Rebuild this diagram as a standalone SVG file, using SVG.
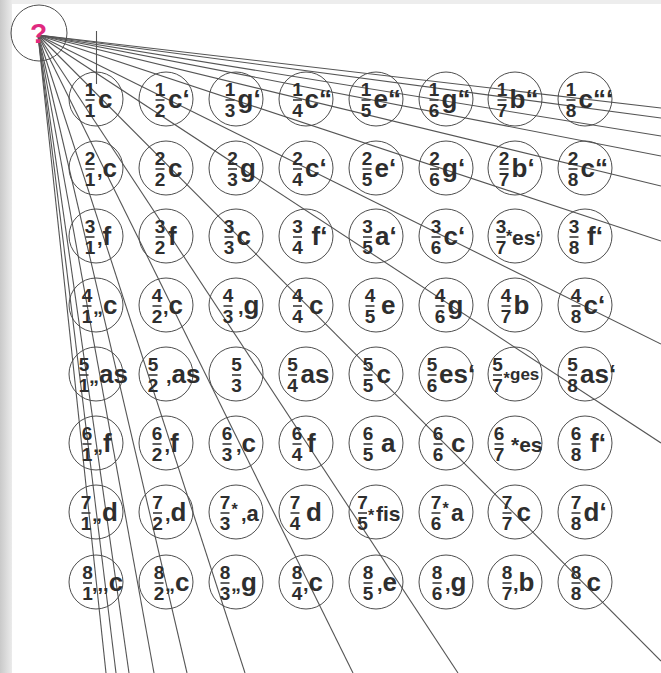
<svg xmlns="http://www.w3.org/2000/svg" width="661" height="673" viewBox="0 0 661 673">
<defs>
<linearGradient id="lg" x1="0" y1="0" x2="1" y2="0"><stop offset="0" stop-color="#c9c9c9"/><stop offset="1" stop-color="#ebebeb"/></linearGradient>
<style>
.nd circle{fill:none;stroke:#4d4d4d;stroke-width:1}
.nd path{stroke:#3a3a3a;stroke-width:1.6;fill:none}
.d{font:bold 19px "Liberation Sans",Arial,sans-serif;text-anchor:middle;fill:#2e2e2e}
.n{font:bold 26px "Liberation Sans",Arial,sans-serif;fill:#2e2e2e}
.m{font-size:20px}
.s{font-size:21px}
.a{font:bold 16px "Liberation Sans",Arial,sans-serif;fill:#2e2e2e}
#conn line{stroke:#555;stroke-width:1.1}
</style>
</defs>
<rect width="661" height="673" fill="#fff"/>
<rect width="12" height="673" fill="url(#lg)"/>
<rect x="12" width="649" height="4" fill="#ededed"/>
<g id="conn">
<line x1="96.5" y1="31" x2="96.5" y2="84"/>
<line x1="38" y1="35" x2="661" y2="108"/>
<line x1="38" y1="35" x2="661" y2="118"/>
<line x1="38" y1="35" x2="661" y2="136"/>
<line x1="38" y1="35" x2="661" y2="156"/>
<line x1="38" y1="35" x2="661" y2="186"/>
<line x1="38" y1="35" x2="661" y2="241"/>
<line x1="38" y1="35" x2="661" y2="344"/>
<line x1="38" y1="35" x2="661" y2="443"/>
<line x1="38" y1="35" x2="661" y2="661"/>
<line x1="38" y1="35" x2="106" y2="673"/>
<line x1="38" y1="35" x2="116" y2="673"/>
<line x1="38" y1="35" x2="129" y2="673"/>
<line x1="38" y1="35" x2="154" y2="673"/>
<line x1="38" y1="35" x2="187" y2="673"/>
<line x1="38" y1="35" x2="245" y2="673"/>
<line x1="38" y1="35" x2="353" y2="673"/>
<line x1="38" y1="35" x2="458" y2="673"/>
</g>
<g id="q" class="nd" transform="translate(39,33)"><circle r="28"/><text x="-0.5" y="9.5" style="font:bold 28px 'Liberation Sans',Arial,sans-serif;fill:#e0297f;text-anchor:middle">?</text></g>

<g id="n11" class="nd" transform="translate(96,99)"><circle r="27"/><text class="d"><tspan x="-6" y="-3">1</tspan><tspan x="-6" y="18">1</tspan></text><path d="M-10.5 1h9"/><text class="n" x="2" y="9">c</text></g>
<g id="n12" class="nd" transform="translate(166,99)"><circle r="27"/><text class="d"><tspan x="-6" y="-3">1</tspan><tspan x="-6" y="18">2</tspan></text><path d="M-10.5 1h9"/><text class="n" x="2" y="9">c‘</text></g>
<g id="n13" class="nd" transform="translate(236,99)"><circle r="27"/><text class="d"><tspan x="-6" y="-3">1</tspan><tspan x="-6" y="18">3</tspan></text><path d="M-10.5 1h9"/><text class="n" x="1.5" y="9">g‘</text></g>
<g id="n14" class="nd" transform="translate(306,99)"><circle r="27"/><text class="d"><tspan x="-8.5" y="-3">1</tspan><tspan x="-8.5" y="18">4</tspan></text><path d="M-13 1h9"/><text class="n" x="-1.5" y="9">c“</text></g>
<g id="n15" class="nd" transform="translate(376,99)"><circle r="27"/><text class="d"><tspan x="-10" y="-3">1</tspan><tspan x="-10" y="18">5</tspan></text><path d="M-14.5 1h9"/><text class="n" x="-2.5" y="9">e“</text></g>
<g id="n16" class="nd" transform="translate(446,99)"><circle r="27"/><text class="d"><tspan x="-12" y="-3">1</tspan><tspan x="-12" y="18">6</tspan></text><path d="M-16.5 1h9"/><text class="n" x="-4.5" y="9">g“</text></g>
<g id="n17" class="nd" transform="translate(515,99)"><circle r="27"/><text class="d"><tspan x="-13" y="-3">1</tspan><tspan x="-13" y="18">7</tspan></text><path d="M-17.5 1h9"/><text class="n" x="-5.5" y="9">b“</text></g>
<g id="n18" class="nd" transform="translate(585,99)"><circle r="27"/><text class="d"><tspan x="-14" y="-3">1</tspan><tspan x="-14" y="18">8</tspan></text><path d="M-18.5 1h9"/><text class="n" x="-6.5" y="9">c“‘</text></g>

<g id="n21" class="nd" transform="translate(96,168)"><circle r="27"/><text class="d"><tspan x="-6" y="-3">2</tspan><tspan x="-6" y="18">1</tspan></text><path d="M-10.5 1h9"/><text class="n" x="1" y="9"><tspan class="m">,</tspan>c</text></g>
<g id="n22" class="nd" transform="translate(166,168)"><circle r="27"/><text class="d"><tspan x="-6" y="-3">2</tspan><tspan x="-6" y="18">2</tspan></text><path d="M-10.5 1h9"/><text class="n" x="2" y="9">c</text></g>
<g id="n23" class="nd" transform="translate(236,168)"><circle r="27"/><text class="d"><tspan x="-3.5" y="-3">2</tspan><tspan x="-3.5" y="18">3</tspan></text><path d="M-8 1h9"/><text class="n" x="4" y="9">g</text></g>
<g id="n24" class="nd" transform="translate(306,168)"><circle r="27"/><text class="d"><tspan x="-8.5" y="-3">2</tspan><tspan x="-8.5" y="18">4</tspan></text><path d="M-13 1h9"/><text class="n" x="-1" y="9">c‘</text></g>
<g id="n25" class="nd" transform="translate(376,168)"><circle r="27"/><text class="d"><tspan x="-9" y="-3">2</tspan><tspan x="-9" y="18">5</tspan></text><path d="M-13.5 1h9"/><text class="n" x="-1.5" y="9">e‘</text></g>
<g id="n26" class="nd" transform="translate(446,168)"><circle r="27"/><text class="d"><tspan x="-11.5" y="-3">2</tspan><tspan x="-11.5" y="18">6</tspan></text><path d="M-16 1h9"/><text class="n" x="-4" y="9">g‘</text></g>
<g id="n27" class="nd" transform="translate(515,168)"><circle r="27"/><text class="d"><tspan x="-11" y="-3">2</tspan><tspan x="-11" y="18">7</tspan></text><path d="M-15.5 1h9"/><text class="n" x="-3.5" y="9">b‘</text></g>
<g id="n28" class="nd" transform="translate(585,168)"><circle r="27"/><text class="d"><tspan x="-12" y="-3">2</tspan><tspan x="-12" y="18">8</tspan></text><path d="M-16.5 1h9"/><text class="n" x="-4.5" y="9">c“</text></g>

<g id="n31" class="nd" transform="translate(96,236)"><circle r="27"/><text class="d"><tspan x="-6" y="-3">3</tspan><tspan x="-6" y="18">1</tspan></text><path d="M-10.5 1h9"/><text class="n" x="1" y="9"><tspan class="m">,</tspan>f</text></g>
<g id="n32" class="nd" transform="translate(166,236)"><circle r="27"/><text class="d"><tspan x="-6" y="-3">3</tspan><tspan x="-6" y="18">2</tspan></text><path d="M-10.5 1h9"/><text class="n" x="2" y="9">f</text></g>
<g id="n33" class="nd" transform="translate(236,236)"><circle r="27"/><text class="d"><tspan x="-7" y="-3">3</tspan><tspan x="-7" y="18">3</tspan></text><path d="M-11.5 1h9"/><text class="n" x="0.5" y="9">c</text></g>
<g id="n34" class="nd" transform="translate(306,236)"><circle r="27"/><text class="d"><tspan x="-8.5" y="-3">3</tspan><tspan x="-8.5" y="18">4</tspan></text><path d="M-13 1h9"/><text class="n" x="5.5" y="9">f‘</text></g>
<g id="n35" class="nd" transform="translate(376,236)"><circle r="27"/><text class="d"><tspan x="-8.5" y="-3">3</tspan><tspan x="-8.5" y="18">5</tspan></text><path d="M-13 1h9"/><text class="n" x="-1" y="9">a‘</text></g>
<g id="n36" class="nd" transform="translate(446,236)"><circle r="27"/><text class="d"><tspan x="-10" y="-3">3</tspan><tspan x="-10" y="18">6</tspan></text><path d="M-14.5 1h9"/><text class="n" x="-2.5" y="9">c‘</text></g>
<g id="n37" class="nd" transform="translate(515,236)"><circle r="27"/><text class="d"><tspan x="-14" y="-3">3</tspan><tspan x="-14" y="18">7</tspan></text><path d="M-18.5 1h9"/><text class="a" x="-9" y="6">*</text><text class="n s" x="-3" y="9">es‘</text></g>
<g id="n38" class="nd" transform="translate(585,236)"><circle r="27"/><text class="d"><tspan x="-11" y="-3">3</tspan><tspan x="-11" y="18">8</tspan></text><path d="M-15.5 1h9"/><text class="n" x="2" y="9">f‘</text></g>

<g id="n41" class="nd" transform="translate(96,305)"><circle r="27"/><text class="d"><tspan x="-9" y="-3">4</tspan><tspan x="-9" y="18">1</tspan></text><path d="M-13.5 1h9"/><text class="n" x="-3" y="9"><tspan class="m">„</tspan>c</text></g>
<g id="n42" class="nd" transform="translate(166,305)"><circle r="27"/><text class="d"><tspan x="-9" y="-3">4</tspan><tspan x="-9" y="18">2</tspan></text><path d="M-13.5 1h9"/><text class="n" x="-3" y="9"><tspan class="m">,</tspan>c</text></g>
<g id="n43" class="nd" transform="translate(236,305)"><circle r="27"/><text class="d"><tspan x="-8" y="-3">4</tspan><tspan x="-8" y="18">3</tspan></text><path d="M-12.5 1h9"/><text class="n" x="2" y="9"><tspan class="m">,</tspan>g</text></g>
<g id="n44" class="nd" transform="translate(306,305)"><circle r="27"/><text class="d"><tspan x="-8.5" y="-3">4</tspan><tspan x="-8.5" y="18">4</tspan></text><path d="M-13 1h9"/><text class="n" x="3" y="9">c</text></g>
<g id="n45" class="nd" transform="translate(376,305)"><circle r="27"/><text class="d"><tspan x="-6" y="-3">4</tspan><tspan x="-6" y="18">5</tspan></text><path d="M-10.5 1h9"/><text class="n" x="5" y="9">e</text></g>
<g id="n46" class="nd" transform="translate(446,305)"><circle r="27"/><text class="d"><tspan x="-6" y="-3">4</tspan><tspan x="-6" y="18">6</tspan></text><path d="M-10.5 1h9"/><text class="n" x="1.5" y="9">g</text></g>
<g id="n47" class="nd" transform="translate(515,305)"><circle r="27"/><text class="d"><tspan x="-9" y="-3">4</tspan><tspan x="-9" y="18">7</tspan></text><path d="M-13.5 1h9"/><text class="n" x="-1.5" y="9">b</text></g>
<g id="n48" class="nd" transform="translate(585,305)"><circle r="27"/><text class="d"><tspan x="-9" y="-3">4</tspan><tspan x="-9" y="18">8</tspan></text><path d="M-13.5 1h9"/><text class="n" x="-1.5" y="9">c‘</text></g>

<g id="n51" class="nd" transform="translate(96,374)"><circle r="27"/><text class="d"><tspan x="-12" y="-3">5</tspan><tspan x="-12" y="18">1</tspan></text><path d="M-16.5 1h9"/><text class="n" x="-7" y="9"><tspan class="m">„</tspan>as</text></g>
<g id="n52" class="nd" transform="translate(166,374)"><circle r="27"/><text class="d"><tspan x="-13" y="-3">5</tspan><tspan x="-13" y="18">2</tspan></text><path d="M-17.5 1h9"/><text class="n" x="0" y="9"><tspan class="m">,</tspan>as</text></g>
<g id="n53" class="nd" transform="translate(236,374)"><circle r="27"/><text class="d"><tspan x="0.5" y="-3">5</tspan><tspan x="0.5" y="18">3</tspan></text><path d="M-4 1h9"/></g>
<g id="n54" class="nd" transform="translate(306,374)"><circle r="27"/><text class="d"><tspan x="-13.5" y="-3">5</tspan><tspan x="-13.5" y="18">4</tspan></text><path d="M-18 1h9"/><text class="n" x="-5.5" y="9">as</text></g>
<g id="n55" class="nd" transform="translate(376,374)"><circle r="27"/><text class="d"><tspan x="-8" y="-3">5</tspan><tspan x="-8" y="18">5</tspan></text><path d="M-12.5 1h9"/><text class="n" x="0.5" y="9">c</text></g>
<g id="n56" class="nd" transform="translate(446,374)"><circle r="27"/><text class="d"><tspan x="-14" y="-3">5</tspan><tspan x="-14" y="18">6</tspan></text><path d="M-18.5 1h9"/><text class="n" x="-7" y="9">es‘</text></g>
<g id="n57" class="nd" transform="translate(515,374)"><circle r="27"/><text class="d"><tspan x="-17.5" y="-3">5</tspan><tspan x="-17.5" y="18">7</tspan></text><path d="M-22 1h9"/><text class="a" x="-11.5" y="10">*</text><text class="n" x="-5" y="6" style="font-size:17px">ges</text></g>
<g id="n58" class="nd" transform="translate(585,374)"><circle r="27"/><text class="d"><tspan x="-12.5" y="-3">5</tspan><tspan x="-12.5" y="18">8</tspan></text><path d="M-17 1h9"/><text class="n" x="-5" y="9">as‘</text></g>

<g id="n61" class="nd" transform="translate(96,443)"><circle r="27"/><text class="d"><tspan x="-9" y="-3">6</tspan><tspan x="-9" y="18">1</tspan></text><path d="M-13.5 1h9"/><text class="n" x="-3" y="9"><tspan class="m">„</tspan>f</text></g>
<g id="n62" class="nd" transform="translate(166,443)"><circle r="27"/><text class="d"><tspan x="-9" y="-3">6</tspan><tspan x="-9" y="18">2</tspan></text><path d="M-13.5 1h9"/><text class="n" x="-1.5" y="9"><tspan class="m">,</tspan>f</text></g>
<g id="n63" class="nd" transform="translate(236,443)"><circle r="27"/><text class="d"><tspan x="-9" y="-3">6</tspan><tspan x="-9" y="18">3</tspan></text><path d="M-13.5 1h9"/><text class="n" x="0" y="9"><tspan class="m">,</tspan>c</text></g>
<g id="n64" class="nd" transform="translate(306,443)"><circle r="27"/><text class="d"><tspan x="-9" y="-3">6</tspan><tspan x="-9" y="18">4</tspan></text><path d="M-13.5 1h9"/><text class="n" x="1" y="9">f</text></g>
<g id="n65" class="nd" transform="translate(376,443)"><circle r="27"/><text class="d"><tspan x="-8" y="-3">6</tspan><tspan x="-8" y="18">5</tspan></text><path d="M-12.5 1h9"/><text class="n" x="5" y="9">a</text></g>
<g id="n66" class="nd" transform="translate(446,443)"><circle r="27"/><text class="d"><tspan x="-8" y="-3">6</tspan><tspan x="-8" y="18">6</tspan></text><path d="M-12.5 1h9"/><text class="n" x="5" y="9">c</text></g>
<g id="n67" class="nd" transform="translate(515,443)"><circle r="27"/><text class="d"><tspan x="-16" y="-3">6</tspan><tspan x="-16" y="18">7</tspan></text><path d="M-20.5 1h9"/><text class="n s" x="-4" y="9">*es</text></g>
<g id="n68" class="nd" transform="translate(585,443)"><circle r="27"/><text class="d"><tspan x="-9" y="-3">6</tspan><tspan x="-9" y="18">8</tspan></text><path d="M-13.5 1h9"/><text class="n" x="5" y="9">f‘</text></g>

<g id="n71" class="nd" transform="translate(96,512)"><circle r="27"/><text class="d"><tspan x="-10" y="-3">7</tspan><tspan x="-10" y="18">1</tspan></text><path d="M-14.5 1h9"/><text class="n" x="-4" y="9"><tspan class="m">„</tspan>d</text></g>
<g id="n72" class="nd" transform="translate(166,512)"><circle r="27"/><text class="d"><tspan x="-8.5" y="-3">7</tspan><tspan x="-8.5" y="18">2</tspan></text><path d="M-13 1h9"/><text class="n" x="-1" y="9"><tspan class="m">,</tspan>d</text></g>
<g id="n73" class="nd" transform="translate(236,512)"><circle r="27"/><text class="d"><tspan x="-11" y="-3">7</tspan><tspan x="-11" y="18">3</tspan></text><path d="M-15.5 1h9"/><text class="a" x="-4.5" y="3">*</text><text class="n" x="5" y="9" style="font-size:22px"><tspan class="m">,</tspan>a</text></g>
<g id="n74" class="nd" transform="translate(306,512)"><circle r="27"/><text class="d"><tspan x="-11" y="-3">7</tspan><tspan x="-11" y="18">4</tspan></text><path d="M-15.5 1h9"/><text class="n" x="0" y="9">d</text></g>
<g id="n75" class="nd" transform="translate(376,512)"><circle r="27"/><text class="d"><tspan x="-13.5" y="-3">7</tspan><tspan x="-13.5" y="18">5</tspan></text><path d="M-18 1h9"/><text class="a" x="-8" y="8.5">*</text><text class="n s" x="0" y="9">fis</text></g>
<g id="n76" class="nd" transform="translate(446,512)"><circle r="27"/><text class="d"><tspan x="-10" y="-3">7</tspan><tspan x="-10" y="18">6</tspan></text><path d="M-14.5 1h9"/><text class="a" x="-3.5" y="2">*</text><text class="n" x="5" y="9" style="font-size:23px">a</text></g>
<g id="n77" class="nd" transform="translate(515,512)"><circle r="27"/><text class="d"><tspan x="-8" y="-3">7</tspan><tspan x="-8" y="18">7</tspan></text><path d="M-12.5 1h9"/><text class="n" x="1.5" y="9">c</text></g>
<g id="n78" class="nd" transform="translate(585,512)"><circle r="27"/><text class="d"><tspan x="-9" y="-3">7</tspan><tspan x="-9" y="18">8</tspan></text><path d="M-13.5 1h9"/><text class="n" x="-1.5" y="9">d‘</text></g>

<g id="n81" class="nd" transform="translate(96,582)"><circle r="27"/><text class="d"><tspan x="-8.5" y="-3">8</tspan><tspan x="-8.5" y="18">1</tspan></text><path d="M-13 1h9"/><text class="n" x="-4" y="9"><tspan class="m">,,,</tspan>c</text></g>
<g id="n82" class="nd" transform="translate(166,582)"><circle r="27"/><text class="d"><tspan x="-7" y="-3">8</tspan><tspan x="-7" y="18">2</tspan></text><path d="M-11.5 1h9"/><text class="n" x="-1" y="9"><tspan class="m">„</tspan>c</text></g>
<g id="n83" class="nd" transform="translate(236,582)"><circle r="27"/><text class="d"><tspan x="-11" y="-3">8</tspan><tspan x="-11" y="18">3</tspan></text><path d="M-15.5 1h9"/><text class="n" x="-5" y="9"><tspan class="m">„</tspan>g</text></g>
<g id="n84" class="nd" transform="translate(306,582)"><circle r="27"/><text class="d"><tspan x="-9" y="-3">8</tspan><tspan x="-9" y="18">4</tspan></text><path d="M-13.5 1h9"/><text class="n" x="-3" y="9"><tspan class="m">,</tspan>c</text></g>
<g id="n85" class="nd" transform="translate(376,582)"><circle r="27"/><text class="d"><tspan x="-8" y="-3">8</tspan><tspan x="-8" y="18">5</tspan></text><path d="M-12.5 1h9"/><text class="n" x="1" y="9"><tspan class="m">,</tspan>e</text></g>
<g id="n86" class="nd" transform="translate(446,582)"><circle r="27"/><text class="d"><tspan x="-9" y="-3">8</tspan><tspan x="-9" y="18">6</tspan></text><path d="M-13.5 1h9"/><text class="n" x="-1" y="9"><tspan class="m">,</tspan>g</text></g>
<g id="n87" class="nd" transform="translate(515,582)"><circle r="27"/><text class="d"><tspan x="-8" y="-3">8</tspan><tspan x="-8" y="18">7</tspan></text><path d="M-12.5 1h9"/><text class="n" x="-2" y="9"><tspan class="m">,</tspan>b</text></g>
<g id="n88" class="nd" transform="translate(585,582)"><circle r="27"/><text class="d"><tspan x="-9" y="-3">8</tspan><tspan x="-9" y="18">8</tspan></text><path d="M-13.5 1h9"/><text class="n" x="1.5" y="9">c</text></g>
</svg>
